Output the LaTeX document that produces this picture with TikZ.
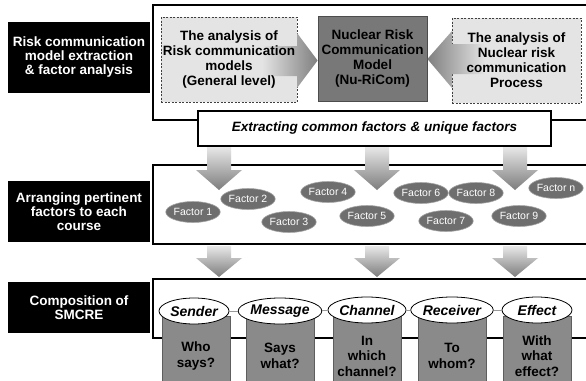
\documentclass[tikz,border=0pt]{standalone}
\usepackage{fontspec}
\setmainfont{Liberation Sans}
\usetikzlibrary{shapes.geometric}
\definecolor{boxlight}{HTML}{E4E4E4}
\definecolor{centergray}{HTML}{787878}
\definecolor{arrowlight}{HTML}{E8E8E8}
\definecolor{arrowdark}{HTML}{7C7C7C}
\definecolor{factorgray}{HTML}{6E6E6E}
\definecolor{colgray}{HTML}{8A8A8A}
\definecolor{colborder}{HTML}{5E5E5E}
\tikzset{
  blackbox/.style={rectangle, fill=black, text=white, align=center, inner sep=0pt,
    minimum width=142, font=\bfseries\fontsize{13.5}{14}\selectfont},
  frame/.style={draw=black, line width=2.2pt, fill=white},
  dashbox/.style={rectangle, draw=black!75, dash pattern=on 2pt off 1.5pt, line width=0.8pt,
    fill=boxlight, inner sep=0pt},
  boxtext/.style={align=center, inner sep=0pt, font=\bfseries\fontsize{13.5}{15}\selectfont},
  factor/.style={ellipse, fill=factorgray, draw=black!35, line width=0.6pt, minimum width=47,
    minimum height=21, inner sep=0pt, text=white, font=\fontsize{10.5}{10.5}\selectfont},
  elabel/.style={ellipse, fill=white, draw=black, line width=0.8pt, minimum width=70,
    minimum height=26, inner sep=0pt, font=\bfseries\itshape\fontsize{14}{14}\selectfont},
  column/.style={rectangle, fill=colgray, draw=colborder, line width=0.6pt, minimum width=68,
    minimum height=80, inner sep=0pt, align=center, font=\bfseries\fontsize{13.5}{15.5}\selectfont},
  link/.style={draw=black!40, line width=0.8pt}
}
\begin{document}
\begin{tikzpicture}[x=1pt,y=-1pt]
\useasboundingbox (0,0) rectangle (586,380);
\clip (0,0) rectangle (586,380);
\fill[white] (0,0) rectangle (586,380);

% left black boxes
\node[blackbox, minimum height=71] (b1) at (79,57.5) {Risk communication\\model extraction\\\& factor analysis};
\node[blackbox, minimum height=61] (b2) at (79,211.5) {Arranging pertinent\\factors to each\\course};
\node[blackbox, minimum height=51] (b3) at (79,307.5) {Composition of\\SMCRE};

% frames
\draw[frame] (153,5) rectangle (620,120);
\draw[frame] (153,165) rectangle (620,244);
\draw[frame] (153,279) rectangle (620,338);

% top row boxes
\node[dashbox, minimum width=136, minimum height=85] (lbox) at (229,59.5) {};
\node[dashbox, minimum width=129, minimum height=85] (rbox) at (516.5,60.5) {};
\node[rectangle, fill=centergray, draw=black!70, line width=0.8pt, minimum width=109,
  minimum height=85, inner sep=0pt] (cbox) at (372.5,58.5) {};

% horizontal arrows
\shade[left color=boxlight, right color=black!50]
  (262,46) -- (297,46) -- (297,33) -- (cbox.west |- 0,60.5) -- (297,88) -- (297,76) -- (262,76) -- cycle;
\shade[left color=black!50, right color=boxlight]
  (485,44) -- (452,44) -- (452,31) -- (cbox.east |- 0,59) -- (452,88) -- (452,74) -- (485,74) -- cycle;

\node[boxtext] (lboxtext) at (lbox.center) {The analysis of\\Risk communication\\models\\(General level)};
\node[boxtext, text=black] (cboxtext) at (cbox.center) {Nuclear Risk\\Communication\\Model\\(Nu-RiCom)};
\node[boxtext] (rboxtext) at (rbox.center) {The analysis of\\Nuclear risk\\communication\\Process};

% extracting box
\node[rectangle, draw=black, line width=2pt, fill=white, minimum width=353, minimum height=35,
  inner sep=0pt, font=\bfseries\itshape\fontsize{13.5}{14}\selectfont] (extract) at (374.5,128.5)
  {Extracting common factors \& unique factors};

% down arrows row 1
\foreach \cx in {219,377,515} {
  \shade[top color=arrowlight, bottom color=arrowdark]
    ({\cx-12},147) -- ({\cx+12},147) -- ({\cx+12},170) -- ({\cx+23},170) -- (\cx,190)
    -- ({\cx-23},170) -- ({\cx-12},170) -- cycle;
}

% factors
\node[factor] (f1) at (193,212) {Factor 1};
\node[factor] (f2) at (248,199) {Factor 2};
\node[factor] (f3) at (289,222) {Factor 3};
\node[factor] (f4) at (328,192) {Factor 4};
\node[factor] (f5) at (367,216) {Factor 5};
\node[factor] (f6) at (421,193) {Factor 6};
\node[factor] (f7) at (446,221) {Factor 7};
\node[factor] (f8) at (476,193) {Factor 8};
\node[factor] (f9) at (519,216) {Factor 9};
\node[factor] (fn) at (556,188) {Factor n};

% down arrows row 2
\foreach \cx in {219,377,515} {
  \shade[top color=arrowlight, bottom color=arrowdark]
    ({\cx-12},246) -- ({\cx+12},246) -- ({\cx+12},258) -- ({\cx+23},258) -- (\cx,277)
    -- ({\cx-23},258) -- ({\cx-12},258) -- cycle;
}

% SMCRE columns
\node[column] (c1) at (196,356) {Who\\says?};
\node[column] (c2) at (280,356) {Says\\what?};
\node[column] (c3) at (367,356) {In\\which\\channel?};
\node[column] (c4) at (452,356) {To\\whom?};
\node[column] (c5) at (537,356) {With\\what\\effect?};

\node[elabel] (sender) at (194,311) {Sender};
\node[elabel] (message) at (280,311) {Message};
\node[elabel] (channel) at (367,310) {Channel};
\node[elabel] (receiver) at (452,310) {Receiver};
\node[elabel] (effect) at (537,310) {Effect};

\draw[link] (sender) -- (message);
\draw[link] (message) -- (channel);
\draw[link] (channel) -- (receiver);
\draw[link] (receiver) -- (effect);
\end{tikzpicture}
\end{document}
